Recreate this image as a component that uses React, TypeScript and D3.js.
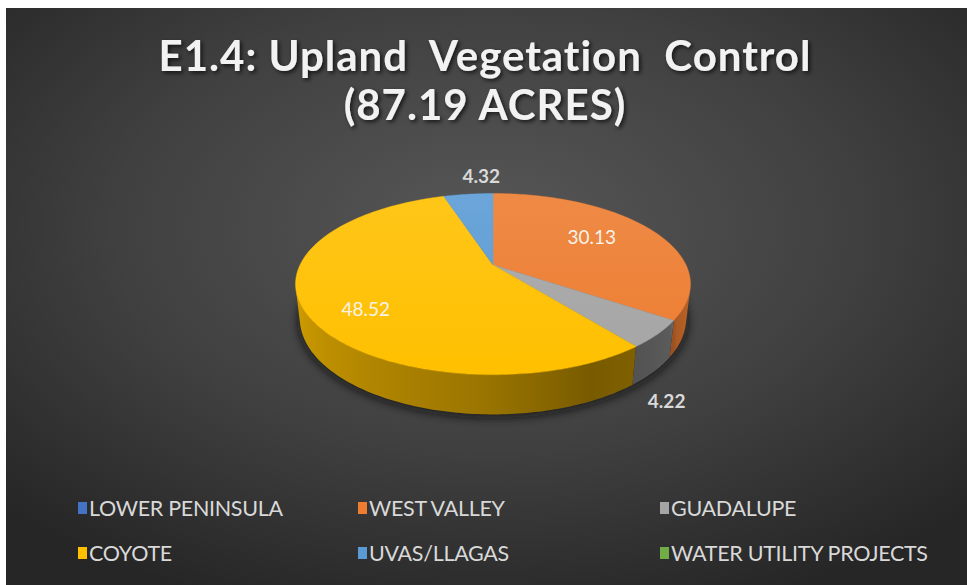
import React from "react";
import * as d3 from "d3";

const categories = [
  "LOWER PENINSULA",
  "WEST VALLEY",
  "GUADALUPE",
  "COYOTE",
  "UVAS/LLAGAS",
  "WATER UTILITY PROJECTS",
];
const acres = [0, 30.13, 4.22, 48.52, 4.32, 0];
const colors = ["#4472C4", "#ED7D31", "#A5A5A5", "#FFC000", "#5B9BD5", "#70AD47"];
const titleLines = ["E1.4: Upland  Vegetation  Control", "(87.19 ACRES)"];

const W = 967;
const H = 585;
const FONT = "Lato, 'Open Sans', sans-serif";

// 3d pie view: unit radius disk, camera tilted and at distance D
const cx = 493;
const cy = 265;
const D = 4.24;
const F = 193 * D;
const tilt = Math.asin(0.4486);
const sa = Math.sin(tilt);
const ca = Math.cos(tilt);
const thick = 0.2;

const project = (rho: number, theta: number, y: number) => {
  const X = rho * Math.sin(theta);
  const Z = rho * Math.cos(theta);
  const depth = D + Z * ca - y * sa;
  const up = y * ca + Z * sa;
  return [cx + (F * X) / depth, cy - (F * up) / depth] as [number, number];
};

const arcPoints = (a0: number, a1: number, y: number, rho = 1) => {
  const n = Math.max(2, Math.ceil(((a1 - a0) * 180) / Math.PI));
  return d3.range(n + 1).map((i) => project(rho, a0 + ((a1 - a0) * i) / n, y));
};

// the outer wall faces the camera when cos(theta) < -1/(D*cos(tilt))
const visLim = Math.acos(-1 / (D * ca));
const visFrom = visLim;
const visTo = 2 * Math.PI - visLim;

const shade = d3
  .scaleLinear()
  .domain([105, 124, 125, 142, 150, 180, 220, 255])
  .range([0.8, 0.72, 0.56, 0.5, 0.44, 0.6, 0.72, 0.82])
  .clamp(true);

const darken = (c: string, f: number) => {
  const r = d3.rgb(c);
  return d3.rgb(r.r * f, r.g * f, r.b * f).formatHex();
};

const line = d3.line();
const legendX = d3.scaleOrdinal<number, number>().domain([0, 1, 2]).range([80, 360, 662]);
const legendY = d3.scaleLinear().domain([0, 1]).range([508, 553]);

export default function App() {
  const arcs = d3.pie<number>().sort(null).value((d) => d)(acres);
  const shown = arcs.filter((a) => a.value > 0);

  const walls = shown
    .map((a) => {
      const s0 = Math.max(a.startAngle, visFrom);
      const s1 = Math.min(a.endAngle, visTo);
      if (s1 <= s0) return null;
      const top = arcPoints(s0, s1, 0);
      const bottom = arcPoints(s0, s1, -thick).reverse();
      const xa = project(1, s0, 0)[0];
      const xb = project(1, s1, 0)[0];
      const stops = d3.range(9).map((k) => {
        const t = s0 + ((s1 - s0) * k) / 8;
        const x = project(1, t, 0)[0];
        return {
          offset: xb === xa ? 0 : (x - xa) / (xb - xa),
          color: darken(colors[a.index], shade((t * 180) / Math.PI)),
        };
      });
      return { d: line([...top, ...bottom]) + "Z", xa, xb, stops, key: a.index };
    })
    .filter((w) => w !== null);

  const tops = shown.map((a) => ({
    d: line([project(0, 0, 0), ...arcPoints(a.startAngle, a.endAngle, 0)]) + "Z",
    fill: colors[a.index],
    key: a.index,
  }));

  const shadowPath = line(arcPoints(0, 2 * Math.PI, -thick, 1.01)) + "Z";
  const topOutline = line(arcPoints(0, 2 * Math.PI, 0)) + "Z";

  const total = d3.sum(acres);
  const labels = shown.map((a) => {
    const mid = (a.startAngle + a.endAngle) / 2;
    if (a.value / total > 0.1) {
      const [x, y] = project(0.66, mid, 0);
      // excel drops labels a bit on the near side
      return {
        x: x - 7,
        y: y + 13 - 19 * Math.cos(mid),
        text: a.value.toFixed(2),
        inside: true,
        key: a.index,
      };
    }
    const near = Math.cos(mid) < 0;
    const [x, y] = project(1, mid, near ? -thick : 0);
    return {
      x: x + 13,
      y: near ? y + 36 : y - 11,
      text: a.value.toFixed(2),
      inside: false,
      key: a.index,
    };
  });

  return (
    <div style={{ position: "absolute", left: 0, top: 0, width: W, height: H }}>
      <svg width={W} height={H} style={{ display: "block" }}>
        <defs>
          <radialGradient id="bg" cx="50%" cy="38%" r="70%">
            <stop offset="0%" stopColor="#575757" />
            <stop offset="55%" stopColor="#404040" />
            <stop offset="100%" stopColor="#262626" />
          </radialGradient>
          <linearGradient id="topShine" x1="0" y1="0" x2="0" y2="1">
            <stop offset="0%" stopColor="#fff" stopOpacity={0.1} />
            <stop offset="100%" stopColor="#fff" stopOpacity={0} />
          </linearGradient>
          {walls.map((w) => (
            <linearGradient
              key={w.key}
              id={`wall${w.key}`}
              gradientUnits="userSpaceOnUse"
              x1={w.xa}
              y1={0}
              x2={w.xb}
              y2={0}
            >
              {w.stops.map((s, i) => (
                <stop key={i} offset={s.offset} stopColor={s.color} />
              ))}
            </linearGradient>
          ))}
          <filter id="blur" x="-20%" y="-20%" width="140%" height="140%">
            <feGaussianBlur stdDeviation={5} />
          </filter>
          <filter id="tshadow" x="-10%" y="-30%" width="120%" height="160%">
            <feDropShadow dx={2} dy={2} stdDeviation={2} floodColor="#000" floodOpacity={0.7} />
          </filter>
        </defs>
        <rect x={0} y={0} width={W} height={H} fill="#fff" />
        <rect x={6} y={8} width={W - 6} height={H - 8} fill="url(#bg)" />

        <g
          filter="url(#tshadow)"
          fill="#f2f2f2"
          fontFamily={FONT}
          fontWeight={700}
          textAnchor="middle"
        >
          {titleLines.map((t, i) => (
            <text
              key={i}
              x={485}
              y={71 + i * 49}
              fontSize={42}
              letterSpacing={1}
              style={{ whiteSpace: "pre" }}
            >
              {t}
            </text>
          ))}
        </g>

        <path d={shadowPath} fill="#111" opacity={0.75} filter="url(#blur)" transform="translate(0,2)" />
        {walls.map((w) => (
          <path key={w.key} d={w.d} fill={`url(#wall${w.key})`} />
        ))}
        {tops.map((t) => (
          <path key={t.key} d={t.d} fill={t.fill} stroke={t.fill} strokeWidth={0.5} />
        ))}
        <path d={topOutline} fill="url(#topShine)" />

        <g fontFamily={FONT} fontSize={19} textAnchor="middle">
          {labels.map((l) => (
            <text
              key={l.key}
              x={l.x}
              y={l.y}
              fill={l.inside ? "#f7f3ea" : "#d9d9d9"}
              fontWeight={l.inside ? 400 : 700}
            >
              {l.text}
            </text>
          ))}
        </g>

        <g fontFamily={FONT} fontSize={21.5} letterSpacing={-0.3} fill="#d9d9d9">
          {categories.map((c, i) => {
            const x = legendX(i % 3);
            const y = legendY(Math.floor(i / 3));
            return (
              <g key={c}>
                <rect x={x - 2} y={y - 6} width={9} height={12} fill={colors[i]} />
                <text x={x + 9} y={y + 8}>
                  {c}
                </text>
              </g>
            );
          })}
        </g>
      </svg>
    </div>
  );
}
